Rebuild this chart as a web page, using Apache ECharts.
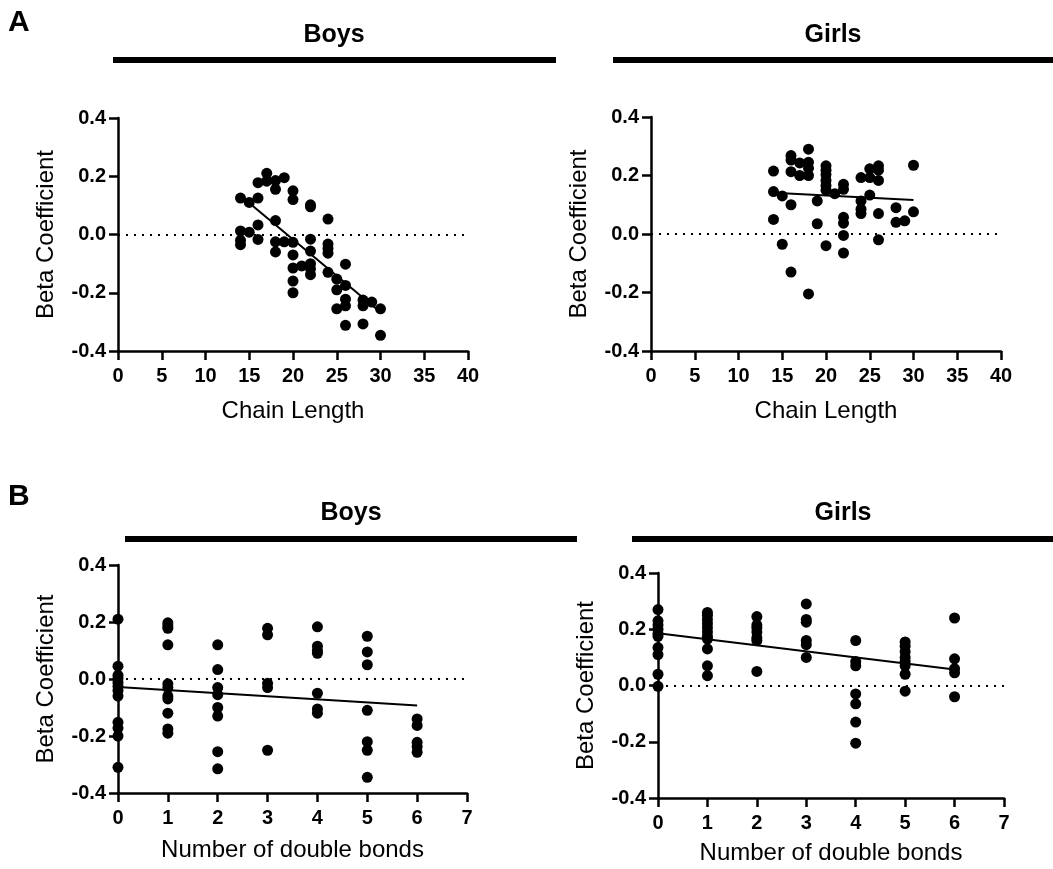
<!DOCTYPE html>
<html>
<head>
<meta charset="utf-8">
<script src="https://cdn.jsdelivr.net/npm/echarts@6/dist/echarts.min.js"></script>
<style>
  html, body { margin: 0; padding: 0; background: #fff; }
  #chart { width: 1053px; height: 869px; }
</style>
</head>
<body>
<div id="chart"></div>
<script>
// beta coefficient vs chain length (panel A)
var chainBoys = [
    [14,0.125],[14,0.012],[14,-0.02],[14,-0.035],
    [15,0.11],[15,0.008],
    [16,0.178],[16,0.125],[16,0.033],[16,-0.017],
    [17,0.21],[17,0.183],
    [18,0.185],[18,0.155],[18,0.048],[18,-0.025],[18,-0.06],
    [19,0.195],[19,-0.025],
    [20,0.15],[20,0.12],[20,-0.027],[20,-0.07],[20,-0.115],[20,-0.16],[20,-0.2],
    [21,-0.108],
    [22,0.102],[22,0.095],[22,-0.016],[22,-0.057],[22,-0.1],[22,-0.118],[22,-0.138],
    [24,0.053],[24,-0.033],[24,-0.048],[24,-0.064],[24,-0.13],
    [25,-0.153],[25,-0.19],[25,-0.255],
    [26,-0.102],[26,-0.175],[26,-0.222],[26,-0.245],[26,-0.312],
    [28,-0.225],[28,-0.245],[28,-0.307],
    [29,-0.232],
    [30,-0.255],[30,-0.346]
];
var chainGirls = [
    [14,0.215],[14,0.145],[14,0.05],
    [15,0.13],[15,-0.035],
    [16,0.268],[16,0.253],[16,0.213],[16,0.1],[16,-0.13],
    [17,0.243],[17,0.2],
    [18,0.29],[18,0.245],[18,0.225],[18,0.2],[18,-0.205],
    [19,0.113],[19,0.035],
    [20,0.233],[20,0.218],[20,0.203],[20,0.183],[20,0.165],[20,0.15],[20,-0.04],
    [21,0.138],
    [22,0.17],[22,0.153],[22,0.057],[22,0.037],[22,-0.005],[22,-0.065],
    [24,0.193],[24,0.113],[24,0.085],[24,0.07],
    [25,0.223],[25,0.193],[25,0.133],
    [26,0.233],[26,0.218],[26,0.183],[26,0.07],[26,-0.02],
    [28,0.09],[28,0.04],
    [29,0.045],
    [30,0.235],[30,0.076]
];
// beta coefficient vs number of double bonds (panel B)
var bondsBoys = [
    [0,0.21],[0,0.045],[0,0.013],[0,0.002],[0,-0.012],[0,-0.025],[0,-0.04],[0,-0.06],[0,-0.152],[0,-0.172],[0,-0.2],[0,-0.31],
    [1,0.197],[1,0.187],[1,0.178],[1,0.12],[1,-0.017],[1,-0.03],[1,-0.06],[1,-0.07],[1,-0.12],[1,-0.175],[1,-0.19],
    [2,0.12],[2,0.033],[2,-0.03],[2,-0.055],[2,-0.1],[2,-0.13],[2,-0.255],[2,-0.315],
    [3,0.178],[3,0.155],[3,-0.015],[3,-0.03],[3,-0.25],
    [4,0.183],[4,0.115],[4,0.1],[4,0.09],[4,-0.05],[4,-0.105],[4,-0.12],
    [5,0.15],[5,0.095],[5,0.05],[5,-0.11],[5,-0.22],[5,-0.25],[5,-0.345],
    [6,-0.14],[6,-0.163],[6,-0.222],[6,-0.237],[6,-0.257]
];
var bondsGirls = [
    [0,0.27],[0,0.23],[0,0.215],[0,0.2],[0,0.185],[0,0.175],[0,0.135],[0,0.11],[0,0.04],[0,-0.003],
    [1,0.26],[1,0.25],[1,0.235],[1,0.22],[1,0.205],[1,0.19],[1,0.175],[1,0.165],[1,0.13],[1,0.07],[1,0.035],
    [2,0.245],[2,0.215],[2,0.205],[2,0.19],[2,0.17],[2,0.16],[2,0.05],
    [3,0.29],[3,0.235],[3,0.225],[3,0.16],[3,0.145],[3,0.1],
    [4,0.16],[4,0.085],[4,0.07],[4,-0.03],[4,-0.065],[4,-0.13],[4,-0.205],
    [5,0.155],[5,0.14],[5,0.12],[5,0.1],[5,0.085],[5,0.07],[5,0.04],[5,-0.02],
    [6,0.24],[6,0.095],[6,0.06],[6,0.045],[6,-0.04]
];
// fitted line end points
var fitChainBoys = [[14,0.133],[30,-0.267]];
var fitChainGirls = [[14,0.141],[30,0.116]];
var fitBondsBoys = [[0,-0.028],[6,-0.093]];
var fitBondsGirls = [[0,0.186],[6,0.057]];

var panelTitles = ['Boys', 'Girls', 'Boys', 'Girls'];
var xTitles = ['Chain Length', 'Chain Length', 'Number of double bonds', 'Number of double bonds'];
var yTitle = 'Beta Coefficient';

var FONT = '"Liberation Sans", Arial, Helvetica, sans-serif';

var grids = [
    {left: 118, top: 118, width: 350, height: 233},
    {left: 651, top: 117, width: 350, height: 234},
    {left: 118, top: 565, width: 349, height: 228},
    {left: 658, top: 573, width: 346, height: 225}
];
var xRanges = [[0,40,5],[0,40,5],[0,7,1],[0,7,1]];
var xNameGaps = [48, 48, 45, 43];
var points = [chainBoys, chainGirls, bondsBoys, bondsGirls];
var fits = [fitChainBoys, fitChainGirls, fitBondsBoys, fitBondsGirls];

var axisLine = {show: true, onZero: false, lineStyle: {color: '#000', width: 2.5}};
var axisTick = {show: true, inside: false, length: 9, lineStyle: {color: '#000', width: 2.5}};

var xAxes = [], yAxes = [], series = [];
for (var i = 0; i < 4; i++) {
    xAxes.push({
        type: 'value', gridIndex: i,
        min: xRanges[i][0], max: xRanges[i][1], interval: xRanges[i][2],
        axisLine: axisLine, axisTick: axisTick,
        axisLabel: {color: '#000', fontWeight: 'bold', fontSize: 20, fontFamily: FONT, margin: 15},
        splitLine: {show: false},
        name: xTitles[i], nameLocation: 'middle', nameGap: xNameGaps[i],
        nameTextStyle: {color: '#000', fontSize: 24, fontFamily: FONT}
    });
    yAxes.push({
        type: 'value', gridIndex: i,
        min: -0.4, max: 0.4, interval: 0.2,
        axisLine: axisLine, axisTick: axisTick,
        axisLabel: {color: '#000', fontWeight: 'bold', fontSize: 20, fontFamily: FONT, margin: 12,
            formatter: function (v) { return v.toFixed(1); }},
        splitLine: {show: false},
        name: yTitle, nameLocation: 'middle', nameGap: 60,
        nameTextStyle: {color: '#000', fontSize: 24, fontFamily: FONT}
    });
    series.push({
        type: 'scatter', xAxisIndex: i, yAxisIndex: i,
        data: points[i], symbolSize: 11,
        itemStyle: {color: '#000', opacity: 1},
        silent: true,
        markLine: {
            silent: true, symbol: 'none', animation: false,
            label: {show: false},
            lineStyle: {color: '#000', width: 2, type: [2, 6]},
            data: [{yAxis: 0}]
        },
        z: 3
    });
    series.push({
        type: 'line', xAxisIndex: i, yAxisIndex: i,
        data: fits[i], symbol: 'none', silent: true,
        lineStyle: {color: '#000', width: 2},
        z: 2
    });
}

var titleFont = 'bold 25px ' + FONT;
var letterFont = 'bold 30px ' + FONT;
var graphics = [
    {type: 'text', left: 8, top: 8, style: {text: 'A', font: letterFont, fill: '#000'}},
    {type: 'text', left: 8, top: 482, style: {text: 'B', font: letterFont, fill: '#000'}},
    {type: 'text', x: 334, y: 35, style: {text: panelTitles[0], font: titleFont, fill: '#000', align: 'center', verticalAlign: 'middle'}},
    {type: 'text', x: 833, y: 35, style: {text: panelTitles[1], font: titleFont, fill: '#000', align: 'center', verticalAlign: 'middle'}},
    {type: 'text', x: 351, y: 513, style: {text: panelTitles[2], font: titleFont, fill: '#000', align: 'center', verticalAlign: 'middle'}},
    {type: 'text', x: 843, y: 513, style: {text: panelTitles[3], font: titleFont, fill: '#000', align: 'center', verticalAlign: 'middle'}},
    {type: 'rect', shape: {x: 113, y: 57, width: 443, height: 6}, style: {fill: '#000'}},
    {type: 'rect', shape: {x: 613, y: 57, width: 440, height: 6}, style: {fill: '#000'}},
    {type: 'rect', shape: {x: 125, y: 536, width: 452, height: 6}, style: {fill: '#000'}},
    {type: 'rect', shape: {x: 632, y: 536, width: 421, height: 6}, style: {fill: '#000'}}
];

var chart = echarts.init(document.getElementById('chart'));
chart.setOption({
    animation: false,
    backgroundColor: '#fff',
    textStyle: {fontFamily: FONT},
    grid: grids,
    xAxis: xAxes,
    yAxis: yAxes,
    series: series,
    graphic: graphics
});
</script>
</body>
</html>
